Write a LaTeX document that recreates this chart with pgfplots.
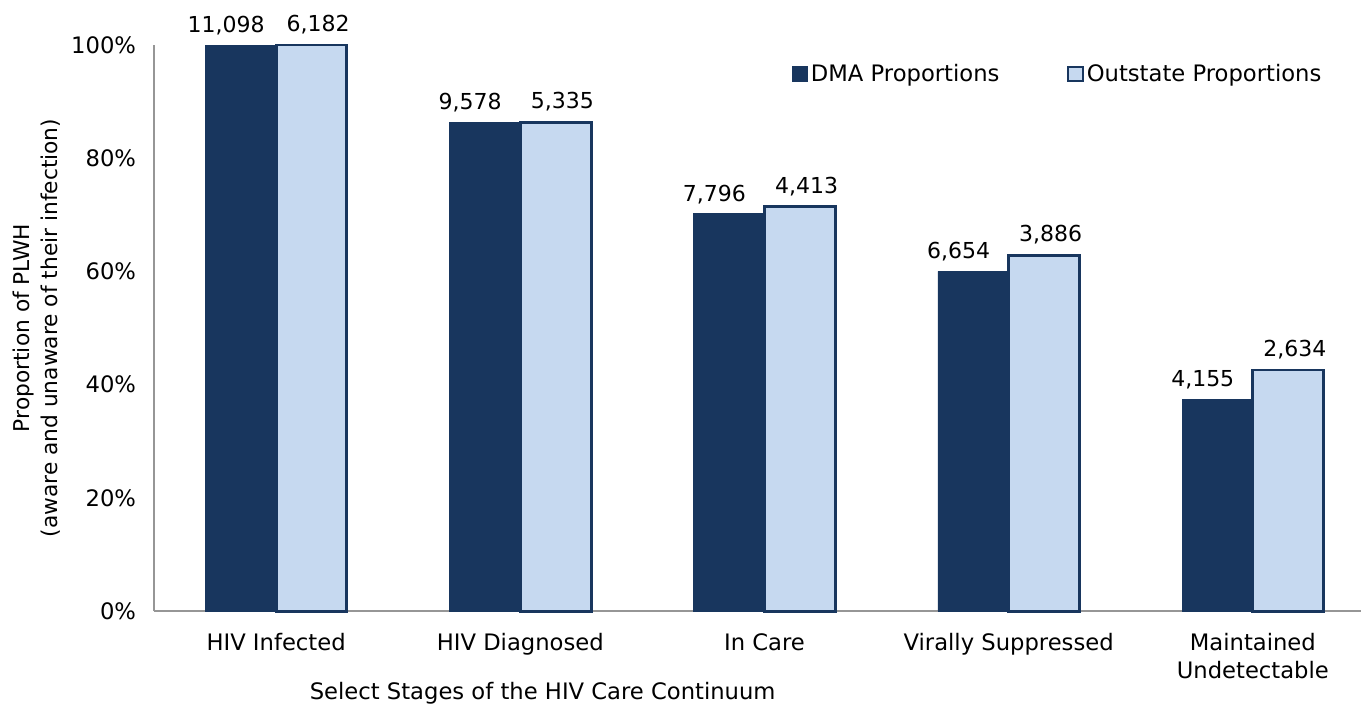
\documentclass[border=0pt]{standalone}
\usepackage{pgfplots}
\pgfplotsset{compat=1.18}
\usepackage{fontspec}
\setmainfont{DejaVu Sans}
\definecolor{dma}{RGB}{24,54,94}
\definecolor{outs}{RGB}{198,217,240}
\definecolor{axgray}{RGB}{150,150,150}
\begin{document}
\begin{tikzpicture}[font=\fontsize{17pt}{21pt}\selectfont]
\begin{axis}[
  at={(0,0)}, anchor=south west,
  scale only axis, width=905pt, height=424.5pt,
  xmin=-0.5, xmax=4.443, ymin=0, ymax=100,
  clip=false,
  axis x line=bottom, axis y line=left,
  axis line style={-, draw=axgray, line width=1pt},
  major tick length=0pt,
  xtick={0,1,2,3,4},
  xticklabels={HIV Infected, HIV Diagnosed, In Care, Virally Suppressed, Maintained\\Undetectable},
  xticklabel style={align=center, anchor=north, yshift=-13pt},
  ytick={0,20,40,60,80,100},
  yticklabel={\pgfmathprintnumber{\tick}\%},
  yticklabel style={xshift=-10pt},
  /pgf/number format/assume math mode=true,
  ylabel={Proportion of PLWH\\(aware and unaware of their infection)},
  ylabel style={font=\fontsize{16.3pt}{21pt}\selectfont, align=center, at={(axis description cs:-0.097,0.5)}, anchor=center},
  xlabel={Select Stages of the HIV Care Continuum},
  xlabel style={at={(axis description cs:0.322,-0.145)}, anchor=center},
  ybar, bar width=0.29,
  point meta=explicit,
  nodes near coords={\pgfmathprintnumber[1000 sep={,}]{\pgfplotspointmeta}},
  nodes near coords style={anchor=south, yshift=4pt, font=\fontsize{16.5pt}{20pt}\selectfont},
  legend columns=2,
  legend style={at={(axis description cs:0.528,0.949)}, anchor=west, draw=none, fill=none, inner sep=0pt,
    /tikz/every even column/.append style={column sep=49pt}},
  legend image code/.code={\draw[#1, line width=1.5pt] (0pt,-5.5pt) rectangle (11pt,5.5pt);},
]
\addplot[fill=dma, draw=dma, bar shift=-0.145, nodes near coords style={xshift=-11pt}] coordinates {
  (0,100) [11098]
  (1,86.3) [9578]
  (2,70.2) [7796]
  (3,60.0) [6654]
  (4,37.4) [4155]
};
\addplot[fill=outs, draw=dma, line width=2.2pt, bar shift=0.145, nodes near coords style={xshift=5pt}] coordinates {
  (0,100) [6182]
  (1,86.3) [5335]
  (2,71.4) [4413]
  (3,62.9) [3886]
  (4,42.6) [2634]
};
\legend{DMA Proportions, Outstate Proportions}
\end{axis}
\pgfresetboundingbox
\useasboundingbox (-115.5pt,-71.25pt) rectangle (905pt,458.25pt);
\end{tikzpicture}
\end{document}
